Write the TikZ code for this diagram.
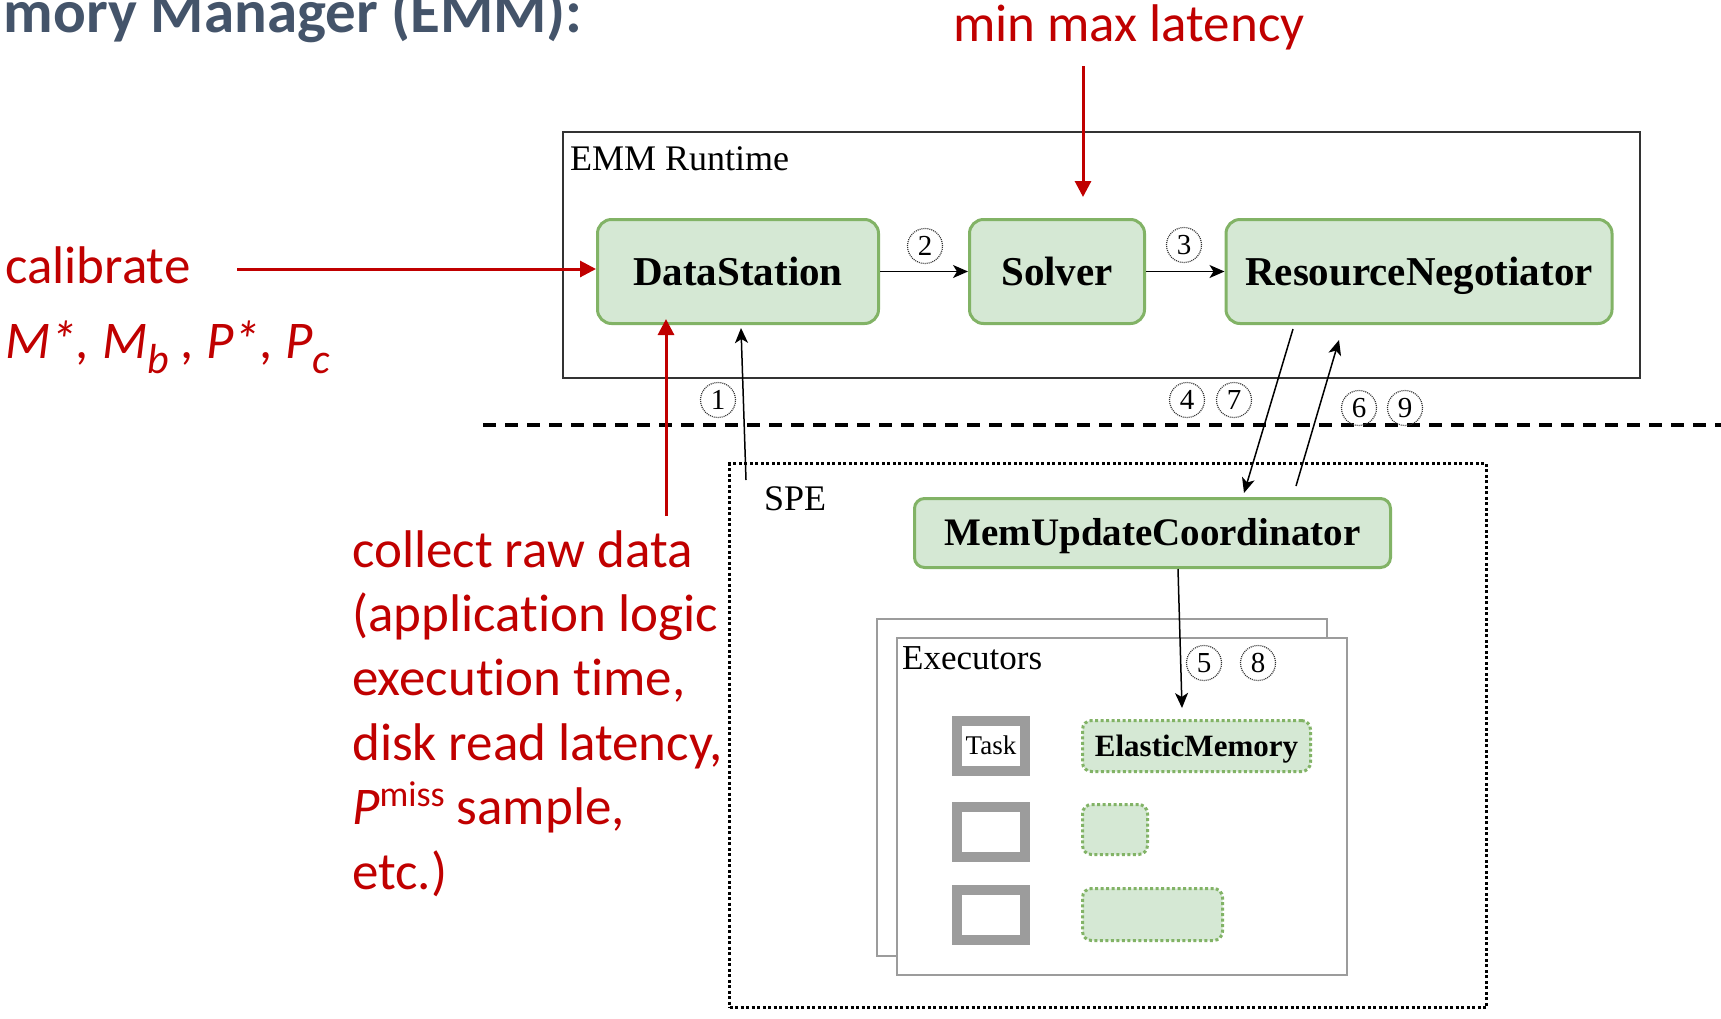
\documentclass[tikz,border=0pt]{standalone}
\usepackage{fontspec}
\setmainfont{Liberation Serif}
\newfontfamily\calib[Ligatures=NoCommon]{Carlito}
\usetikzlibrary{arrows.meta,calc}
\definecolor{boxfill}{HTML}{D5E8D4}
\definecolor{boxline}{HTML}{82B366}
\definecolor{annot}{HTML}{C00000}
\definecolor{titleblue}{HTML}{44546A}
\definecolor{execgray}{HTML}{9C9C9C}
\newcommand\fsz[1]{\fontsize{#1}{#1}\selectfont}
\newcommand\lowsub[1]{\raisebox{-15pt}{\fontsize{42}{42}\selectfont #1}}
\newcommand\highsup[1]{\raisebox{18pt}{\upshape\fontsize{36}{36}\selectfont #1}}

\begin{document}
\begin{tikzpicture}[x=1pt,y=-1pt,
  comp/.style={draw=boxline, fill=boxfill, line width=3pt, rounded corners=14pt,
    inner sep=0pt, text height=27pt, text depth=0pt, font=\fsz{41}\bfseries},
  memblock/.style={draw=boxline, fill=boxfill, line width=3pt,
    dash pattern=on 3pt off 2.5pt, rounded corners=9pt, inner sep=0pt,
    text height=20.5pt, text depth=0pt, font=\fsz{31}\bfseries},
  taskbox/.style={draw=execgray, fill=white, line width=10pt, inner sep=0pt,
    minimum width=68, minimum height=50, text height=17.9pt, text depth=0pt,
    font=\fsz{27}},
  execbox/.style={draw=execgray, fill=white, line width=2pt, inner sep=0pt,
    minimum width=450, minimum height=337},
  num/.style={circle, draw=black!80, line width=1.2pt, dash pattern=on 1pt off 1pt,
    minimum size=35, inner sep=0pt, text height=19.6pt, text depth=0pt,
    font=\fsz{29}},
  label/.style={anchor=base west, inner sep=0pt, font=\fsz{36}},
  redtext/.style={anchor=base west, inner sep=0pt, text=annot, font=\calib\fsz{53}},
  conn/.style={draw=black, line width=1.5pt, -{Stealth[length=15pt,width=13pt,inset=4pt]}},
  redarrow/.style={draw=annot, line width=3pt, -{Triangle[length=16pt,width=16pt]}}
]
\useasboundingbox (0,0) rectangle (1721,1018);

% heading
\node[anchor=base east, inner sep=0pt, text=titleblue, font=\calib\bfseries\fsz{61}]
  (title) at (583,32) {mory Manager (EMM):};

% EMM runtime container
\node[draw=black!80, line width=2pt, minimum width=1077, minimum height=246, inner sep=0pt]
  (emm) at (1101.5,255) {};
\node[label] (emmlabel) at (570,170) {EMM Runtime};

\node[comp, minimum width=281, minimum height=104] (ds) at (738,271.5) {DataStation};
\node[comp, minimum width=175, minimum height=104] (solver) at (1057,271.5) {Solver};
\node[comp, minimum width=386, minimum height=104] (rn) at (1419,271.5) {ResourceNegotiator};

% separator between runtime and engine
\coordinate (dashL) at (483,425);
\coordinate (dashR) at (1721,425);
\draw[line width=3.5pt, dash pattern=on 13pt off 9pt] (dashL) -- (dashR);

% stream processing engine
\node[draw=black, line width=3.2pt, dash pattern=on 3pt off 2.5pt, minimum width=757,
  minimum height=544, inner sep=0pt] (spe) at (1108,735.5) {};
\node[label] (spelabel) at (764,510) {SPE};

\node[comp, font=\fsz{39}\bfseries, text height=25.8pt, rounded corners=10pt,
  minimum width=476, minimum height=69] (muc) at (1152.5,533) {MemUpdateCoordinator};

% executors (stacked)
\node[execbox] (execback) at (1102,787.5) {};
\node[execbox] (execfront) at (1122,806.5) {};
\node[label, font=\fsz{35}] (execlabel) at (902,669) {Executors};

\node[taskbox] (t1) at (991,745.5) {Task};
\node[taskbox] (t2) at (991,831.5) {};
\node[taskbox] (t3) at (991,914.5) {};

\node[memblock, minimum width=228, minimum height=51] (em) at (1196.5,746) {ElasticMemory};
\node[memblock, minimum width=65, minimum height=50] (g2) at (1115,829.5) {};
\node[memblock, minimum width=140, minimum height=52] (g3) at (1152.5,914.5) {};

% step numbers
\node[num] (n1) at (718,400) {1};
\node[num] (n2) at (925,246) {2};
\node[num] (n3) at (1184,245) {3};
\node[num] (n4) at (1187,400) {4};
\node[num] (n7) at (1234,400) {7};
\node[num] (n6) at (1359,408) {6};
\node[num] (n9) at (1405,408) {9};
\node[num] (n5) at (1204,663) {5};
\node[num] (n8) at (1258,663) {8};

% data flow
\draw[conn] (ds) -- (solver);
\draw[conn] (solver) -- (rn);
\coordinate (rawsrc) at (746,480);
\draw[conn] (rawsrc) -- ([xshift=3pt,yshift=-3pt]ds.south);
\draw[conn] ([xshift=-126pt,yshift=-4pt]rn.south) -- ([xshift=91.5pt,yshift=4pt]muc.north);
\draw[conn] ([xshift=143.5pt,yshift=11pt]muc.north) -- ([xshift=-80pt,yshift=-15pt]rn.south);
\draw[conn] ([xshift=25.5pt]muc.south) -- ([xshift=-14.5pt,yshift=11pt]em.north);

% annotations
\node[redtext] (minmax) at (953,41) {min max latency};
\coordinate (latsrc) at (1083,66);
\draw[redarrow] (latsrc) -- ([xshift=26pt,yshift=21pt]solver.north);

\node[redtext] (calibtext) at (5,283) {calibrate};
\coordinate (calsrc) at (237,269);
\draw[redarrow] (calsrc) -- (ds.west |- calsrc);
\node[redtext, font=\calib\itshape\fsz{53}] (params) at (5,358)
  {M*, M\lowsub{b} , P*, P\lowsub{c}};

\node[redtext] (collect) at (352,567) {\parbox[t]{440pt}{\raggedright
  \calib\fontsize{53}{64.4}\selectfont collect raw data\\
  (application logic\\
  execution time,\\
  disk read latency,\\
  {\itshape P}\highsup{miss} sample,\\
  etc.)}};
\coordinate (collectsrc) at (666,516);
\draw[redarrow] (collectsrc) -- ([xshift=-72pt,yshift=6pt]ds.south);
\end{tikzpicture}
\end{document}
